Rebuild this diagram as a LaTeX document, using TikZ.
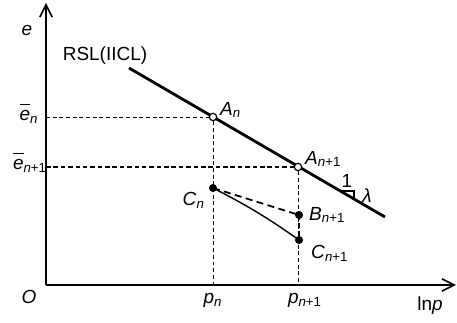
\documentclass[tikz,border=0pt]{standalone}
\usepackage{fontspec}
\setmainfont{Liberation Sans}
\usetikzlibrary{arrows.meta}
\tikzset{
  axis/.style={line width=0.9pt, -{Straight Barb[length=7pt,width=7pt,line width=0.9pt]}},
  guide/.style={line width=0.45pt, dash pattern=on 2.2pt off 1.6pt},
  guidebold/.style={line width=0.6pt, dash pattern=on 2.6pt off 1.6pt},
  rsl/.style={line width=1.6pt},
  path/.style={line width=0.8pt},
  pathdash/.style={line width=1pt, dash pattern=on 4pt off 2.5pt},
  openpt/.style={circle, draw, line width=0.7pt, fill=white, inner sep=0pt, minimum size=4.2pt},
  fullpt/.style={circle, fill, inner sep=0pt, minimum size=4.6pt},
  lbl/.style={font=\fontsize{10.8}{13}\selectfont, inner sep=0.5pt}
}
\newcommand{\var}[2]{\textit{#1}\textsubscript{#2}}
\newcommand{\ebar}{$\overline{\mbox{\textit{e}}\vphantom{\textit{l}}}$}
\begin{document}
\begin{tikzpicture}[x=0.02cm, y=-0.02cm]
  \useasboundingbox (0,0) rectangle (457,323);
  % axes
  \coordinate (O) at (46,285);
  \coordinate (ytop) at (46,3);
  \coordinate (xend) at (456,285);
  \draw[axis] (O) -- (ytop);
  \draw[axis] (O) -- (xend);
  % RSL line
  \coordinate (rslA) at (129,68);
  \coordinate (rslB) at (385,217);
  \draw[rsl] (rslA) -- (rslB);
  % points
  \node[openpt] (An) at (213,117) {};
  \node[openpt] (An1) at (298,167) {};
  \node[fullpt] (Cn) at (213,188) {};
  \node[fullpt] (Bn1) at (299,215) {};
  \node[fullpt] (Cn1) at (299,240) {};
  % projections
  \draw[guide] (O |- An) -- (An);
  \draw[guide] (An) -- (An |- O);
  \draw[guidebold] (O |- An1) -- (An1);
  \draw[guide] (An1) -- (An1 |- O);
  % paths
  \draw[path] (Cn.center) to[bend left=4] (Cn1.center);
  \draw[pathdash] (Cn.center) -- (Bn1.center);
  \draw[line width=1.5pt, dash pattern=on 3pt off 1.5pt] (Bn1.center) -- (Cn1.center);
  % slope mark
  \draw[line width=0.7pt] (340,191) -- (354,191) -- (354,199);
  % labels
  \node[lbl] (lbe) at (27,30) {\textit{e}};
  \node[lbl] (lbrsl) at (105,56) {RSL(IICL)};
  \node[lbl, anchor=west] (lbAn) at (219,110) {\var{A}{\textit{n}}};
  \node[lbl, anchor=west] (lbAn1) at (304,159) {\var{A}{\textit{n}+1}};
  \node[lbl, anchor=east] (lbCn) at (206,200) {\var{C}{\textit{n}}};
  \node[lbl, anchor=west] (lbBn1) at (308,215) {\var{B}{\textit{n}+1}};
  \node[lbl, anchor=west] (lbCn1) at (310,253) {\var{C}{\textit{n}+1}};
  \node[lbl] (lbone) at (347,181) {1};
  \node[lbl] (lblam) at (367,196) {\textit{λ}};
  \node[lbl] (lben) at (29,113) {\ebar\textsubscript{\textit{n}}};
  \node[lbl] (lben1) at (30,162) {\ebar\textsubscript{\textit{n}+1}};
  \node[lbl] (lbO) at (29,297) {\textit{O}};
  \node[lbl] (lbpn) at (213,300) {\var{p}{\textit{n}}};
  \node[lbl] (lbpn1) at (305,300) {\var{p}{\textit{n}+1}};
  \node[lbl] (lblnp) at (430,306) {ln\textit{p}};
\end{tikzpicture}
\end{document}
